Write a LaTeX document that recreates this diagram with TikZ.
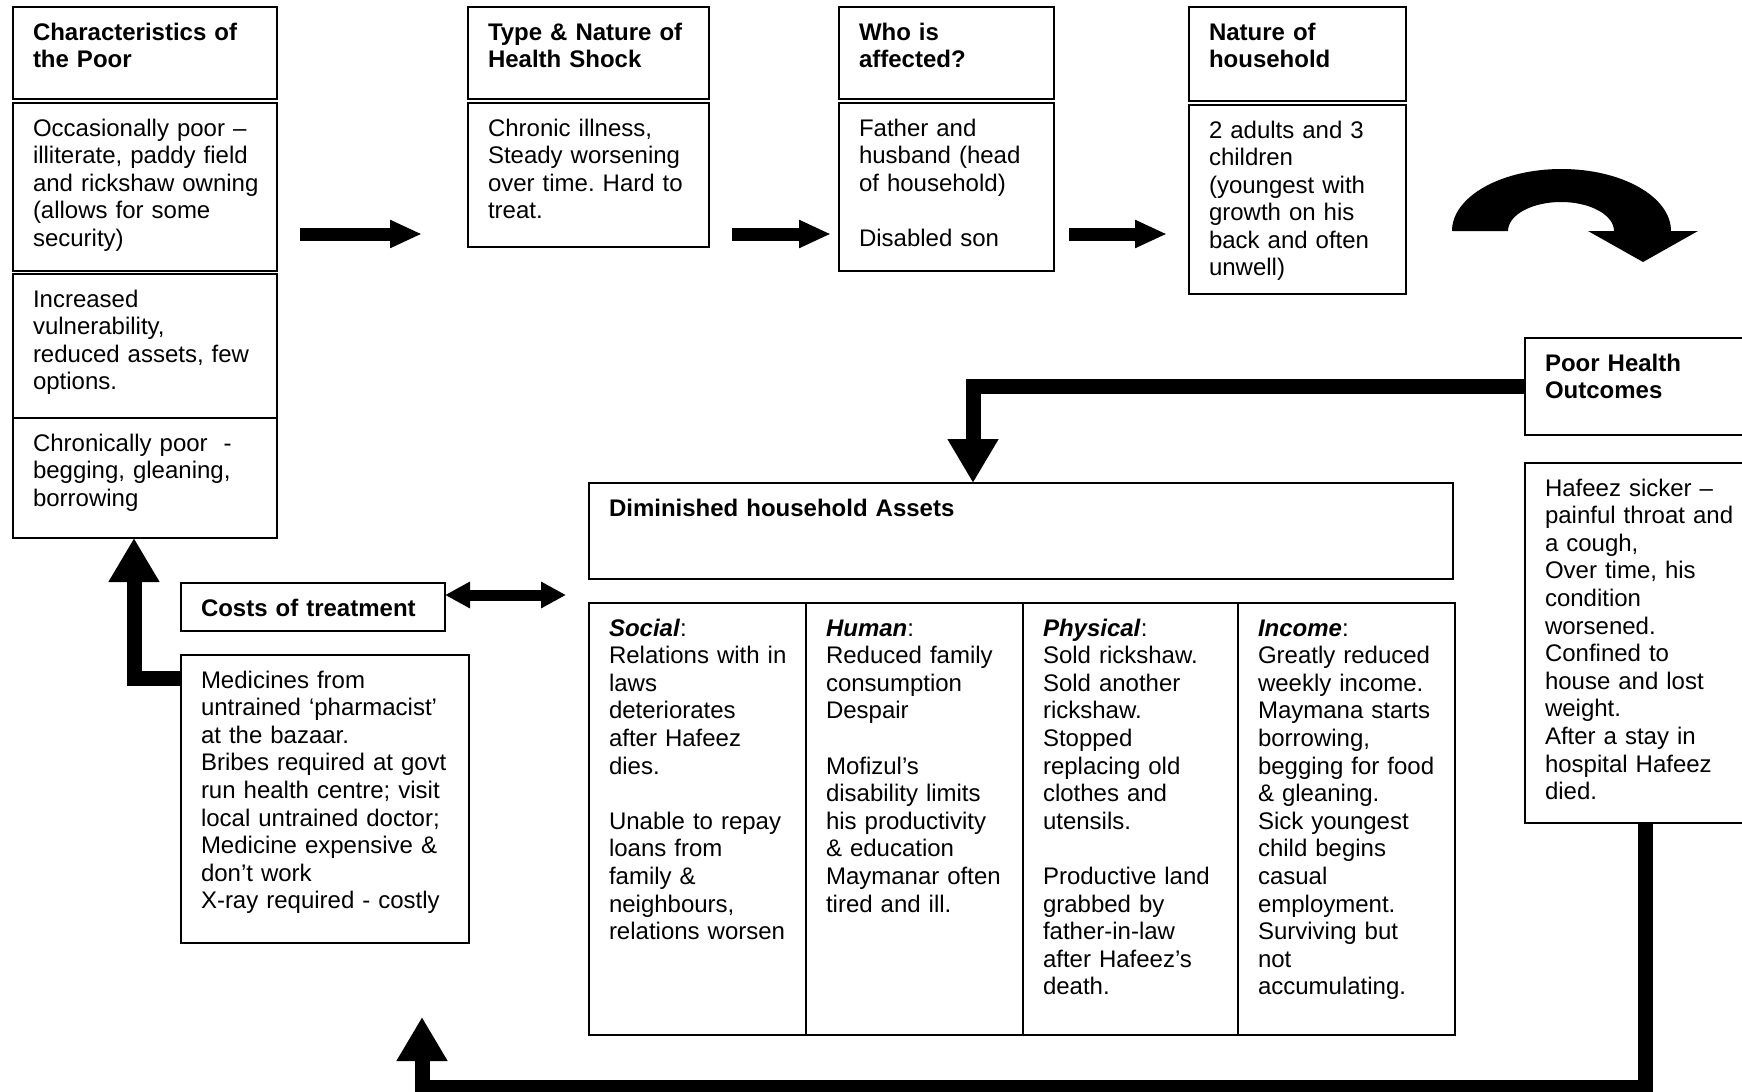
\documentclass[tikz,border=0pt]{standalone}
\usepackage{fontspec}
\setmainfont{Liberation Sans}
\frenchspacing
\usetikzlibrary{positioning,arrows.meta,calc}
\tikzset{
	>={Triangle[width=13pt,length=16pt]}
}

\begin{document}
\begin{tikzpicture}[
x = 0.5pt, y = -0.5pt,
node distance = 2pt,
every node/.style = {
	font = \fontsize{12pt}{13.8pt}\selectfont
},
textbox/.style = {
	draw,
	line width = 1pt,
	anchor = north west,
	align = left,
	text width = #1,
	inner xsep = 0pt,
	inner ysep = 0pt,
	outer sep = 0pt,
	text height = 16.5pt,
	execute at begin node = {\leftskip=10pt\hyphenpenalty=10000}
},
headbox/.style = {
	textbox = #1,
	font = \fontsize{12pt}{13.8pt}\selectfont\bfseries
},
flowarrow/.style = {
	line width = 6.5pt,
	->
},
bigarrow/.style = {
	line width = 7.5pt,
	-{Triangle[width=24pt,length=22pt]}
},
twoway/.style = {
	line width = 5.5pt,
	{Triangle[width=12.5pt,length=12.5pt]}-{Triangle[width=12.5pt,length=12.5pt]}
}
]

\useasboundingbox (0,0) rectangle (1742,1092);
\clip (0,0) rectangle (1742,1092);

% top row
\node (poor) [headbox = 132pt, text depth = 29.5pt] at (13,7) {Characteristics of\\the Poor};
\node (occasional) [textbox = 132pt, below = 2pt of poor.south west, anchor = north west, text depth = 67.5pt] {Occasionally poor –\\illiterate, paddy field\\and rickshaw owning\\(allows for some\\security)};
\node (vulnerable) [textbox = 132pt, below = 1.5pt of occasional.south west, anchor = north west, text depth = 55.5pt] {Increased\\vulnerability,\\reduced assets, few\\options.};
\node (chronic) [textbox = 132pt, below = 0pt of vulnerable.south west, anchor = north west, text depth = 43.5pt] {Chronically poor\ \ -\\begging, gleaning,\\borrowing};

\node (shock) [headbox = 120.5pt, right = 95.5pt of poor.north east, anchor = north west, text depth = 29.5pt] {Type \& Nature of\\Health Shock};
\node (shockbody) [textbox = 120.5pt, below = 2pt of shock.south west, anchor = north west, text depth = 55.5pt] {Chronic illness,\\Steady worsening\\over time. Hard to\\treat.};
\node (who) [headbox = 107.5pt, right = 65pt of shock.north east, anchor = north west, text depth = 29.5pt] {Who is\\affected?};
\node (whobody) [textbox = 107.5pt, below = 2pt of who.south west, anchor = north west, text depth = 67.5pt] {Father and\\husband (head\\of household)\\[13.8pt]Disabled son};
\node (household) [headbox = 108.5pt, right = 67.5pt of who.north east, anchor = north west, text depth = 30.5pt] {Nature of\\household};
\node (housebody) [textbox = 108.5pt, below = 2pt of household.south west, anchor = north west, text depth = 78pt] {2 adults and 3\\children\\(youngest with\\growth on his\\back and often\\unwell)};

% right side
\node (outcome) [headbox = 120pt, text depth = 32pt] at (1525,338) {Poor Health\\Outcomes};
\node (outcomebody) [textbox = 120pt, below = 14pt of outcome.south west, anchor = north west, text depth = 163.5pt] {Hafeez sicker –\\painful throat and\\a cough,\\Over time, his\\condition\\worsened.\\Confined to\\house and lost\\weight.\\After a stay in\\hospital Hafeez\\died.};

% assets
\node (assets) [headbox = 432pt, text depth = 31.5pt] at (589,483) {Diminished household Assets};
\node (social) [textbox = 108.5pt, below = 12pt of assets.south west, anchor = north west, text depth = 199.5pt] {\textbf{\textit{Social}}:\\Relations with in\\laws\\deteriorates\\after Hafeez\\dies.\\[13.8pt]Unable to repay\\loans from\\family \&\\neighbours,\\relations worsen};
\node (human) [textbox = 108.5pt, right = 0pt of social.north east, anchor = north west, text depth = 199.5pt] {\textbf{\textit{Human}}:\\Reduced family\\consumption\\Despair\\[13.8pt]Mofizul’s\\disability limits\\his productivity\\\& education\\Maymanar often\\tired and ill.};
\node (physical) [textbox = 107.5pt, right = 0pt of human.north east, anchor = north west, text depth = 199.5pt] {\textbf{\textit{Physical}}:\\Sold rickshaw.\\Sold another\\rickshaw.\\Stopped\\replacing old\\clothes and\\utensils.\\[13.8pt]Productive land\\grabbed by\\father-in-law\\after Hafeez’s\\death.};
\node (income) [textbox = 108.5pt, right = 0pt of physical.north east, anchor = north west, text depth = 199.5pt] {\textbf{\textit{Income}}:\\Greatly reduced\\weekly income.\\Maymana starts\\borrowing,\\begging for food\\\& gleaning.\\Sick youngest\\child begins\\casual\\employment.\\Surviving but\\not\\accumulating.};

% costs
\node (costs) [headbox = 132pt, text depth = 7.5pt] at (181,583) {Costs of treatment};
\node (medicine) [textbox = 144pt, below = 12pt of costs.south west, anchor = north west, text depth = 127.5pt] {Medicines from\\untrained ‘pharmacist’\\at the bazaar.\\Bribes required at govt\\run health centre; visit\\local untrained doctor;\\Medicine expensive \&\\don’t work\\X-ray required - costly};

% arrows
\coordinate (row) at (0,234);
\draw[flowarrow, shorten <= 11.5pt, shorten >= 23pt] (occasional.east |- row) -- (shockbody.west |- row);
\draw[flowarrow, shorten <= 11.5pt, shorten >= 4pt] (shockbody.east |- row) -- (whobody.west |- row);
\draw[flowarrow, shorten <= 7.5pt, shorten >= 11pt] (whobody.east |- row) -- (housebody.west |- row);

\fill (1452,231) arc[start angle=180, end angle=360, x radius=109.5, y radius=62]
	-- (1698,231) -- (1643,262) -- (1588,231) -- (1614,231)
	arc[start angle=360, end angle=180, x radius=53, y radius=29] -- cycle;

\draw[bigarrow] (outcome.west) -| ($(assets.north)+(-48,0)$);
\draw[bigarrow] (outcomebody.south) -- ++(0,264) -| ($(medicine.south east)+(-47,74)$);
\draw[bigarrow] ($(medicine.north west)+(0,23)$) -| ([xshift=-5.5pt]chronic.south);
\draw[twoway, shorten >= 11.5pt] ($(costs.east)+(0,-12)$) -- ($(costs.east -| assets.west)+(0,-12)$);

\end{tikzpicture}
\end{document}
